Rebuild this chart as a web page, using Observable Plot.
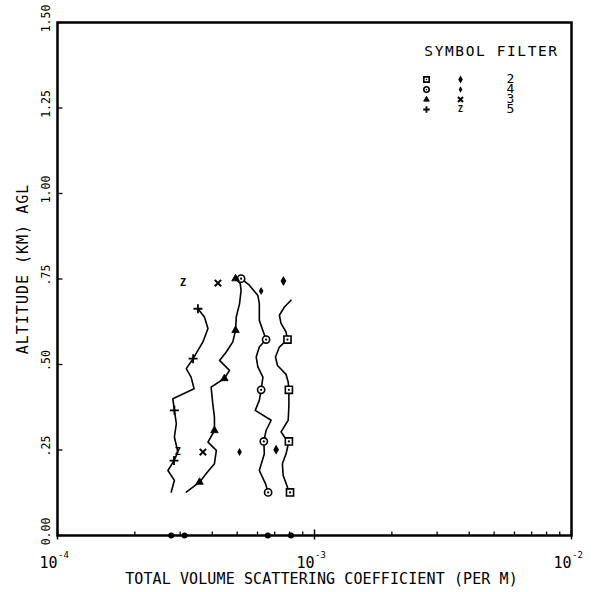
<!DOCTYPE html>
<html><head><meta charset="utf-8">
<script src="https://cdn.jsdelivr.net/npm/d3@7"></script>
<script src="https://cdn.jsdelivr.net/npm/@observablehq/plot@0.6"></script>
<style>
html,body{margin:0;padding:0;background:#fff;}
#chart svg{display:block;}
</style></head><body><div id="chart"></div>
<script>
// ---- data (altitude km AGL, total volume scattering coefficient per m) ----
const f2Coef = [8.10e-4,7.64e-4,7.30e-4,7.41e-4,7.75e-4,7.85e-4,7.30e-4,7.05e-4,7.18e-4,7.75e-4,7.90e-4,7.95e-4,7.95e-4,7.90e-4,7.41e-4,7.64e-4,7.95e-4,7.75e-4,7.50e-4,7.55e-4,7.85e-4,8.03e-4];
const f2Alt  = [0.688,0.668,0.644,0.620,0.595,0.573,0.551,0.522,0.497,0.471,0.449,0.426,0.380,0.337,0.303,0.288,0.275,0.239,0.210,0.176,0.141,0.126];
const f2MarkCoef = [7.85e-4,7.95e-4,7.95e-4,8.03e-4];
const f2MarkAlt  = [0.573,0.426,0.275,0.126];
const f2AltCoef = [7.57e-4,7.09e-4];
const f2AltAlt  = [0.744,0.251];

const f4Coef = [5.18e-4,5.58e-4,6.02e-4,6.10e-4,6.10e-4,6.29e-4,6.48e-4,6.10e-4,5.93e-4,6.02e-4,6.30e-4,6.20e-4,6.10e-4,5.88e-4,6.78e-4,6.48e-4,6.35e-4,6.38e-4,6.10e-4,6.45e-4,6.60e-4];
const f4Alt  = [0.751,0.732,0.702,0.678,0.629,0.600,0.573,0.551,0.522,0.493,0.463,0.426,0.395,0.366,0.337,0.307,0.275,0.239,0.190,0.151,0.126];
const f4MarkCoef = [5.18e-4,6.48e-4,6.20e-4,6.35e-4,6.60e-4];
const f4MarkAlt  = [0.751,0.573,0.426,0.275,0.126];
const f4AltCoef = [6.20e-4,5.11e-4];
const f4AltAlt  = [0.715,0.244];

const f3Coef = [4.93e-4,5.14e-4,5.18e-4,5.11e-4,4.96e-4,4.93e-4,4.81e-4,4.53e-4,4.27e-4,4.67e-4,4.46e-4,3.96e-4,4.02e-4,4.08e-4,4.08e-4,3.85e-4,4.15e-4,4.08e-4,3.79e-4,3.57e-4,3.17e-4];
const f3Alt  = [0.751,0.737,0.717,0.678,0.639,0.600,0.566,0.536,0.512,0.483,0.459,0.434,0.385,0.346,0.307,0.273,0.249,0.210,0.181,0.156,0.127];
const f3MarkCoef = [4.93e-4,4.93e-4,4.46e-4,4.08e-4,3.57e-4];
const f3MarkAlt  = [0.751,0.600,0.459,0.307,0.156];
const f3AltCoef = [4.21e-4,3.68e-4];
const f3AltAlt  = [0.738,0.244];

const f5Coef = [3.52e-4,3.73e-4,3.85e-4,3.68e-4,3.37e-4,3.17e-4,3.31e-4,3.40e-4,2.81e-4,2.85e-4,2.90e-4,2.85e-4,2.94e-4,2.84e-4,2.69e-4,2.85e-4,2.77e-4];
const f5Alt  = [0.663,0.639,0.605,0.566,0.517,0.488,0.463,0.429,0.400,0.366,0.327,0.288,0.244,0.219,0.190,0.161,0.127];
const f5MarkCoef = [3.52e-4,3.37e-4,2.85e-4,2.84e-4];
const f5MarkAlt  = [0.663,0.517,0.366,0.219];
const f5AltCoef = [3.08e-4,2.94e-4];
const f5AltAlt  = [0.738,0.244];

const groundCoef = [2.77e-4,3.12e-4,6.58e-4,8.10e-4];
const groundAlt  = [0,0,0,0];

const yTickVals = [0,0.25,0.5,0.75,1.0,1.25,1.5];
const yTickLabels = ["0.00",".25",".50",".75","1.00","1.25","1.50"];
const xMajorTicks = [1e-4,1e-3,1e-2];
const xExpLabels = ["-4","-3","-2"];
const xMinorTicks = [2e-4,3e-4,4e-4,5e-4,6e-4,7e-4,8e-4,9e-4,2e-3,3e-3,4e-3,5e-3,6e-3,7e-3,8e-3,9e-3];

const legendSym1 = ["sqdot","circdot","tri","plus"];
const legendSym2 = ["diamond","diamondS","times","z"];
const legendFilter = ["2","4","3","5"];
const xTitle = "TOTAL VOLUME SCATTERING COEFFICIENT (PER M)";
const yTitle = "ALTITUDE (KM) AGL";
const legendTitle = "SYMBOL FILTER";

// ---- helpers ----
const rows = (c, a) => c.map((v, i) => ({c: v, a: a[i]}));
const FONT = "DejaVu Sans Mono";

function symbolMarks(data, kind, pos, s = 1) {
  switch (kind) {
    case "sqdot": return [
      Plot.dot(data, {...pos, symbol: "square", r: 4 * s, stroke: "black", fill: "white", strokeWidth: 1.6}),
      Plot.dot(data, {...pos, r: 1.1 * s, fill: "black"})];
    case "circdot": return [
      Plot.dot(data, {...pos, symbol: "circle", r: 3.6 * s, stroke: "black", fill: "white", strokeWidth: 1.6}),
      Plot.dot(data, {...pos, r: 1.1 * s, fill: "black"})];
    case "tri": return [Plot.dot(data, {...pos, symbol: "triangle", r: 2.8 * s, fill: "black", stroke: "black", strokeWidth: 0.8})];
    case "plus": return [Plot.dot(data, {...pos, symbol: "plus", r: 3 * s, stroke: "black", strokeWidth: 1.8})];
    case "diamond": return [Plot.dot(data, {...pos, symbol: "diamond", r: 3 * s, fill: "black"})];
    case "diamondS": return [Plot.dot(data, {...pos, symbol: "diamond", r: 2.4 * s, fill: "black"})];
    case "times": return [Plot.dot(data, {...pos, symbol: "times", r: 3 * s, stroke: "black", strokeWidth: 2})];
    case "z": return [Plot.text(data, {...pos, text: () => "Z", textAnchor: "middle", lineAnchor: "middle", fontSize: 10 * s, fontWeight: "bold", fontFamily: FONT})];
  }
  return [];
}

const tickRight = {draw(ctx) { ctx.moveTo(0, 0); ctx.lineTo(5, 0); }};
const tickUp = {draw(ctx) { ctx.moveTo(0, 0); ctx.lineTo(0, -4); }};
const tickMajor = {draw(ctx) { ctx.moveTo(0, 4); ctx.lineTo(0, -6); }};

const P = {x: "c", y: "a"};
const marks = [];

// curves
for (const [c, a] of [[f2Coef, f2Alt], [f4Coef, f4Alt], [f3Coef, f3Alt], [f5Coef, f5Alt]]) {
  marks.push(Plot.line(rows(c, a), {x: "c", y: "a", stroke: "black", strokeWidth: 1.6}));
}
// curve markers
marks.push(...symbolMarks(rows(f2MarkCoef, f2MarkAlt), "sqdot", P));
marks.push(...symbolMarks(rows(f4MarkCoef, f4MarkAlt), "circdot", P));
marks.push(...symbolMarks(rows(f3MarkCoef, f3MarkAlt), "tri", P));
marks.push(...symbolMarks(rows(f5MarkCoef, f5MarkAlt), "plus", P));
// second-symbol points
marks.push(...symbolMarks(rows(f2AltCoef, f2AltAlt), "diamond", P));
marks.push(...symbolMarks(rows(f4AltCoef, f4AltAlt), "diamondS", P));
marks.push(...symbolMarks(rows(f3AltCoef, f3AltAlt), "times", P));
marks.push(...symbolMarks(rows(f5AltCoef, f5AltAlt), "z", P));
// ground-level points
marks.push(Plot.dot(rows(groundCoef, groundAlt), {x: "c", y: "a", r: 3, fill: "black"}));

// frame + ticks
marks.push(Plot.frame({stroke: "black", strokeWidth: 2.5}));
marks.push(Plot.dot(yTickVals, {y: d => d, frameAnchor: "left", symbol: tickRight, stroke: "black", fill: "none", strokeWidth: 1.3}));
marks.push(Plot.dot(xMinorTicks, {x: d => d, frameAnchor: "bottom", symbol: tickUp, stroke: "black", fill: "none", strokeWidth: 1.3}));
marks.push(Plot.dot(xMajorTicks, {x: d => d, frameAnchor: "bottom", symbol: tickMajor, stroke: "black", fill: "none", strokeWidth: 1.5}));

// tick labels
marks.push(Plot.text(yTickVals, {y: d => d, text: (d, i) => yTickLabels[i], frameAnchor: "left", textAnchor: "middle", lineAnchor: "middle", rotate: -90, dx: -11, dy: -4, fontSize: 11.5, fontFamily: FONT}));
marks.push(Plot.text(xMajorTicks, {x: d => d, text: () => "10", frameAnchor: "bottom", textAnchor: "end", lineAnchor: "middle", dx: 0, dy: 28, fontSize: 15, fontFamily: FONT}));
marks.push(Plot.text(xMajorTicks, {x: d => d, text: (d, i) => xExpLabels[i], frameAnchor: "bottom", textAnchor: "start", lineAnchor: "middle", dx: 0.5, dy: 20, fontSize: 9, fontFamily: FONT}));

// axis titles
marks.push(Plot.text([xTitle], {text: d => d, frameAnchor: "bottom", textAnchor: "middle", lineAnchor: "middle", dx: 7, dy: 44, fontSize: 15, fontFamily: FONT}));
marks.push(Plot.text([yTitle], {text: d => d, frameAnchor: "left", textAnchor: "middle", lineAnchor: "middle", rotate: -90, dx: -34, dy: -10, fontSize: 15, fontFamily: FONT}));

// legend
marks.push(Plot.text([legendTitle], {text: d => d, frameAnchor: "top-right", textAnchor: "middle", lineAnchor: "middle", dx: -80, dy: 29, fontSize: 14.5, fontFamily: FONT}));
legendFilter.forEach((f, i) => {
  const dy = 57 + i * 10;
  marks.push(...symbolMarks([0], legendSym1[i], {frameAnchor: "top-right", dx: -145, dy}, 0.75));
  marks.push(...symbolMarks([0], legendSym2[i], {frameAnchor: "top-right", dx: -111, dy}, 0.8));
});
// filter numbers as one stacked block of lines
marks.push(Plot.text([legendFilter.join("\n")], {text: d => d, frameAnchor: "top-right", textAnchor: "middle", lineAnchor: "middle", lineHeight: 10 / 13, dx: -61, dy: 72, fontSize: 13, fontFamily: FONT}));

const chart = Plot.plot({
  width: 596,
  height: 592,
  marginLeft: 57,
  marginRight: 25,
  marginTop: 22,
  marginBottom: 57,
  x: {type: "log", domain: [1e-4, 1e-2], axis: null},
  y: {domain: [0, 1.5], axis: null},
  style: {background: "white", color: "black", fontFamily: FONT},
  marks
});
document.getElementById("chart").appendChild(chart);
// letter spacing to mimic the wide plotter lettering
const spacing = {[yTitle]: "1px", [legendTitle]: "1.6px", [xTitle]: "0.1px"};
chart.querySelectorAll("text").forEach(t => {
  const s = spacing[t.textContent];
  if (s) t.style.letterSpacing = s;
});
</script></body></html>
